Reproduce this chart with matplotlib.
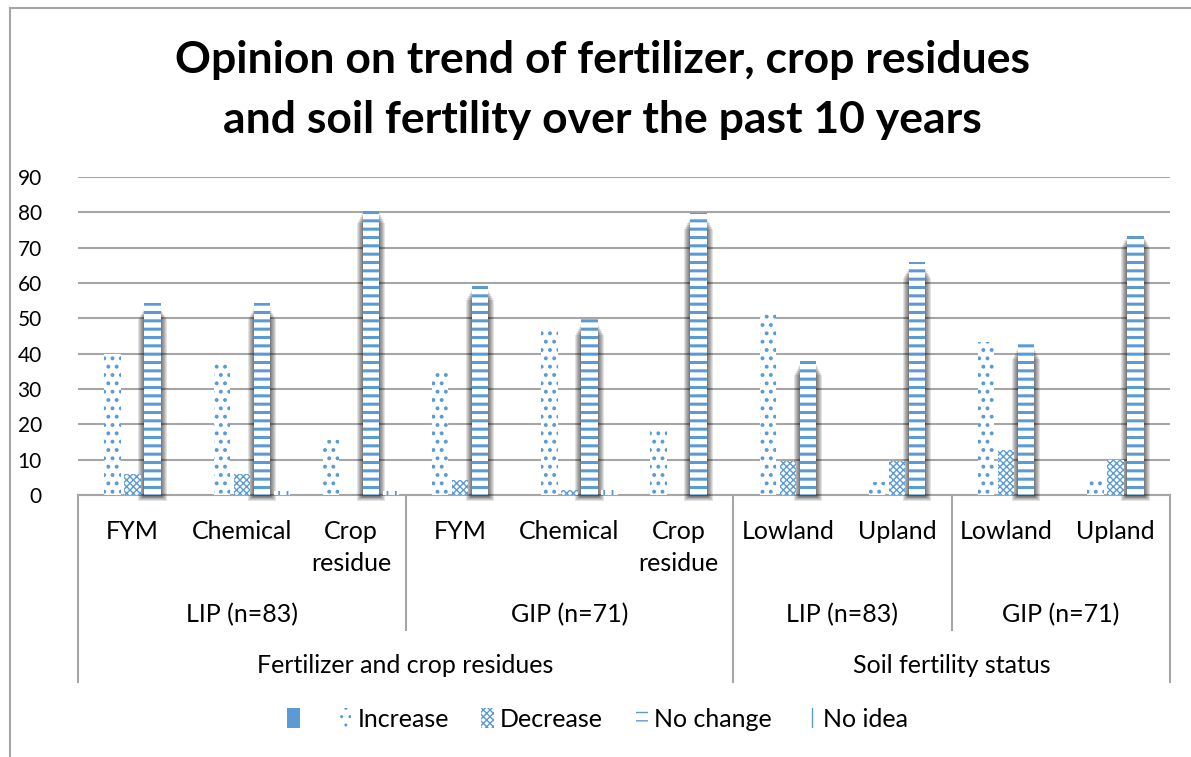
import numpy as np
import matplotlib.pyplot as plt
from matplotlib.patches import Patch
from matplotlib.lines import Line2D

plt.rcParams['font.family'] = ['Lato', 'DejaVu Sans']

# data (percent of respondents)
categories = ['FYM', 'Chemical', 'Crop\nresidue', 'FYM', 'Chemical', 'Crop\nresidue',
              'Lowland', 'Upland', 'Lowland', 'Upland']
groups = ['LIP (n=83)', 'GIP (n=71)', 'LIP (n=83)', 'GIP (n=71)']
group_sizes = [3, 3, 2, 2]
sections = ['Fertilizer and crop residues', 'Soil fertility status']
section_sizes = [6, 4]

increase = [39.8, 37.3, 15.7, 35.0, 46.4, 19.3, 51.8, 3.6, 43.4, 4.2]
decrease = [6.0, 6.0, 0, 4.2, 1.3, 0, 9.6, 9.6, 12.7, 9.9]
no_change = [54.2, 54.3, 81.5, 59.6, 49.8, 79.7, 38.5, 65.8, 43.0, 74.6]
no_idea = [0, 1.2, 1.2, 0, 1.4, 0, 0, 0, 0, 0]

blue = '#5B9BD5'
grid_gray = '#A6A6A6'

fig = plt.figure(figsize=(11.91, 7.57), dpi=100)
ax = fig.add_axes([0.0655, 0.3461, 0.9169, 0.4201])

x = np.arange(len(categories))
slot = 0.183
w = 0.15
px = 1.0 / 109.2  # one pixel in x data units


def hbar(vals, pos, hatch, lw):
    with plt.rc_context({'hatch.linewidth': lw}):
        bars = ax.bar(x + pos * slot, vals, w, facecolor='white', edgecolor=blue,
                      linewidth=0, hatch=hatch, zorder=3)
    return bars


hbar(increase, -1, '..', 1.6)
hbar(decrease, 0, 'xxxxx', 1.0)

# soft shadow behind the "No change" bars
nc = np.array(no_change)
for k in range(6):
    ax.bar(x + slot, nc - 2.8 + 0.3 * k, w + px * 2 * (6 - k), bottom=-1.6 + 0.22 * k,
           color='black', alpha=0.11, linewidth=0, zorder=2.5, clip_on=False)
hbar(no_change, 1, '--', 2.2)
hbar(no_idea, 2, '||', 1.3)

ax.set_xlim(-0.5, len(categories) - 0.5)
ax.set_ylim(0, 90)
ax.set_yticks(range(0, 91, 10))
ax.tick_params(axis='y', length=0, labelsize=15, pad=26)
ax.set_xticks([])
ax.yaxis.grid(True, color=grid_gray, linewidth=1.5, zorder=0)
ax.set_axisbelow(True)
for s in ['top', 'right', 'left']:
    ax.spines[s].set_visible(False)
ax.spines['bottom'].set_color(grid_gray)
ax.spines['bottom'].set_linewidth(1.5)
ax.spines['bottom'].set_zorder(2)

# multi-level category axis
trans = ax.get_xaxis_transform()
for i, c in enumerate(categories):
    ax.text(i, -0.08, c, transform=trans, ha='center', va='top', fontsize=18,
            linespacing=1.45)

row2, row3 = -0.4245, -0.588
edges = np.cumsum([0] + group_sizes) - 0.5
for i, g in enumerate(groups):
    ax.text((edges[i] + edges[i + 1]) / 2, -0.377, g, transform=trans,
            ha='center', va='center', fontsize=18)
sec_edges = np.cumsum([0] + section_sizes) - 0.5
for i, s in enumerate(sections):
    ax.text((sec_edges[i] + sec_edges[i + 1]) / 2, -0.535, s, transform=trans,
            ha='center', va='center', fontsize=18)
for e in edges:
    y1 = row3 if e in sec_edges else row2
    ax.add_line(Line2D([e, e], [0, y1], transform=trans, color=grid_gray,
                       linewidth=1.5, clip_on=False))

fig.text(0.506, 0.881, 'Opinion on trend of fertilizer, crop residues\nand soil fertility over the past 10 years',
         ha='center', va='center', fontsize=32, fontweight='bold', linespacing=1.6)

# legend
handles = [Patch(facecolor=blue, edgecolor=blue, linewidth=0)]
labels = ['']
for h, lw, lab in [('..', 1.6, 'Increase'), ('xxxxx', 1.0, 'Decrease'),
                   ('--', 2.2, 'No change'), ('||', 1.3, 'No idea')]:
    with plt.rc_context({'hatch.linewidth': lw}):
        handles.append(Patch(facecolor='white', edgecolor=blue, linewidth=0, hatch=h))
    labels.append(lab)
fig.legend(handles, labels, loc='center', bbox_to_anchor=(0.502, 0.05), ncol=5,
           frameon=False, fontsize=18, handlelength=0.5, handleheight=0.9,
           handletextpad=0.25, columnspacing=1.3)

# outer chart border
fig.add_artist(Line2D([9.5 / 1191, 9.5 / 1191], [0, 1 - 7.5 / 757], color=grid_gray, linewidth=1.5))
fig.add_artist(Line2D([9.5 / 1191, 1], [1 - 7.5 / 757, 1 - 7.5 / 757], color=grid_gray, linewidth=1.5))

fig.savefig('out.png', dpi=100)
